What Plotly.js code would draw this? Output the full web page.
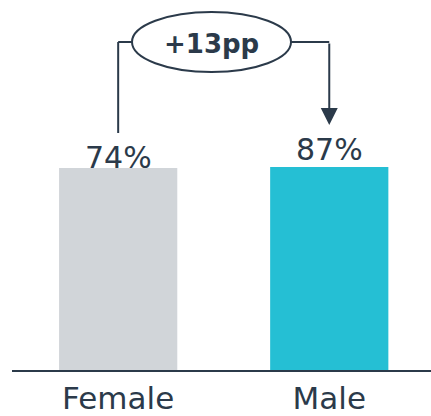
<!DOCTYPE html>
<html>
<head>
<meta charset="utf-8">
<script src="https://cdn.plot.ly/plotly-3.0.1.min.js"></script>
<style>
  html, body { margin: 0; padding: 0; background: #ffffff; }
  #chart { width: 431px; height: 416px; }
</style>
</head>
<body>
<div id="chart"></div>
<script>
// ---- data ----
const categories = ["Female", "Male"];
const values = [74, 87];
const barColors = ["#d1d5d9", "#25bfd4"];
const diffLabel = "+" + (values[1] - values[0]) + "pp";

// ---- styling ----
const ink = "#2b3a4a";
const font = "DejaVu Sans, sans-serif";
const H = 416, T = 167, B = 46;
const plotH = H - T - B;
// convert a page pixel row to paper y
const py = (px) => (H - B - px) / plotH;

const trace = {
  type: "bar",
  x: categories,
  y: values,
  width: 0.56,
  marker: { color: barColors },
  hoverinfo: "skip",
  cliponaxis: true
};

const ellipseX0 = 0.0655, ellipseX1 = 0.8188;

const shapes = [
  { type: "line", xref: "x", yref: "paper", x0: 0, x1: 0, y0: py(133), y1: py(42),
    line: { color: ink, width: 2 } },
  { type: "line", xref: "x", yref: "paper", x0: 0, x1: ellipseX0, y0: py(42), y1: py(42),
    line: { color: ink, width: 2 } },
  { type: "circle", xref: "x", yref: "paper", x0: ellipseX0, x1: ellipseX1, y0: py(72), y1: py(12),
    line: { color: ink, width: 2 }, fillcolor: "rgba(0,0,0,0)" },
  { type: "line", xref: "x", yref: "paper", x0: ellipseX1, x1: 1, y0: py(42), y1: py(42),
    line: { color: ink, width: 2 } }
];

const labelY = [py(157), py(149.5)];
const annotations = categories.map((c, i) => ({
  x: i, xref: "x", y: labelY[i], yref: "paper",
  text: values[i] + "%", showarrow: false,
  xanchor: "center", yanchor: "middle",
  font: { family: font, size: 30, color: ink }
}));

annotations.push({
  x: 1, xref: "x", y: py(125), yref: "paper",
  ax: 0, ay: -83, axref: "pixel", ayref: "pixel",
  text: "", showarrow: true, arrowhead: 2, arrowsize: 1.7, arrowwidth: 2,
  arrowcolor: ink, standoff: 0
});

annotations.push({
  x: (ellipseX0 + ellipseX1) / 2, xref: "x", y: py(44), yref: "paper",
  text: "<b>" + diffLabel + "</b>", showarrow: false,
  xanchor: "center", yanchor: "middle",
  font: { family: font, size: 26, color: ink }
});

const layout = {
  width: 431, height: 416,
  margin: { l: 12, r: 0, t: T, b: B, pad: 0 },
  paper_bgcolor: "#ffffff", plot_bgcolor: "#ffffff",
  showlegend: false,
  xaxis: {
    type: "category",
    range: [-0.503, 1.482],
    showline: true, linecolor: ink, linewidth: 2,
    ticks: "", showgrid: false, zeroline: false,
    tickfont: { family: font, size: 31, color: ink },
    fixedrange: true
  },
  yaxis: {
    range: [0, 74.4],
    visible: false, showgrid: false, zeroline: false,
    fixedrange: true
  },
  shapes: shapes,
  annotations: annotations
};

Plotly.newPlot("chart", [trace], layout, { displayModeBar: false, staticPlot: true });
</script>
</body>
</html>
